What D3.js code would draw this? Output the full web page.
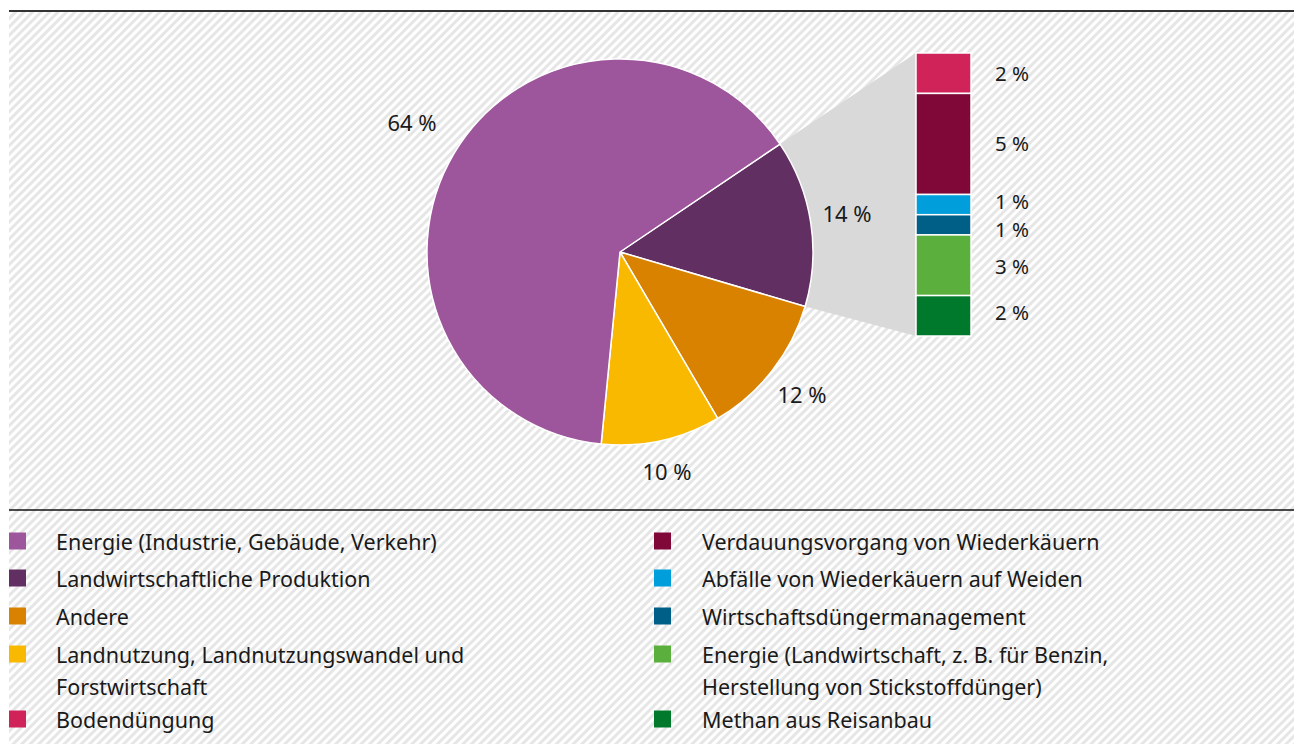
<!DOCTYPE html>
<html>
<head>
<meta charset="utf-8">
<script src="https://cdn.jsdelivr.net/npm/d3@7"></script>
<style>
  body { margin: 0; background: #fff; }
  text { font-family: "Noto Sans", "Open Sans", sans-serif; fill: #1a1a1a; }
</style>
</head>
<body>
<script>
// pie data
const pieNames = ["Landwirtschaftliche Produktion", "Andere", "Landnutzung, Landnutzungswandel und Forstwirtschaft", "Energie (Industrie, Gebäude, Verkehr)"];
const pieValues = [14, 12, 10, 64];
const pieColors = ["#622f62", "#d88200", "#f9b900", "#9d559c"];

// breakdown of agriculture slice
const barNames = ["Bodendüngung", "Verdauungsvorgang von Wiederkäuern", "Abfälle von Wiederkäuern auf Weiden", "Wirtschaftsdüngermanagement", "Energie (Landwirtschaft, z. B. für Benzin, Herstellung von Stickstoffdünger)", "Methan aus Reisanbau"];
const barValues = [2, 5, 1, 1, 3, 2];
const barColors = ["#cf2359", "#7f0838", "#009edb", "#005f87", "#5aaf3d", "#00792c"];

// legend columns (lines already split like the original)
const legendLeft = [
  { lines: ["Energie (Industrie, Gebäude, Verkehr)"], color: "#9d559c" },
  { lines: ["Landwirtschaftliche Produktion"], color: "#622f62" },
  { lines: ["Andere"], color: "#d88200" },
  { lines: ["Landnutzung, Landnutzungswandel und", "Forstwirtschaft"], color: "#f9b900" },
  { lines: ["Bodendüngung"], color: "#cf2359" }
];
const legendRight = [
  { lines: ["Verdauungsvorgang von Wiederkäuern"], color: "#7f0838" },
  { lines: ["Abfälle von Wiederkäuern auf Weiden"], color: "#009edb" },
  { lines: ["Wirtschaftsdüngermanagement"], color: "#005f87" },
  { lines: ["Energie (Landwirtschaft, z. B. für Benzin,", "Herstellung von Stickstoffdünger)"], color: "#5aaf3d" },
  { lines: ["Methan aus Reisanbau"], color: "#00792c" }
];

const width = 1300, height = 744;
const svg = d3.select("body").append("svg")
  .attr("width", width)
  .attr("height", height);

// hatched background
const pat = svg.append("defs").append("pattern")
  .attr("id", "hatch")
  .attr("patternUnits", "userSpaceOnUse")
  .attr("width", 6).attr("height", 6)
  .attr("patternTransform", "rotate(45)");
pat.append("rect").attr("width", 6).attr("height", 6).attr("fill", "#ffffff");
pat.append("rect").attr("width", 3).attr("height", 6).attr("fill", "#e6e6e6");

svg.append("rect")
  .attr("x", 9).attr("y", 11)
  .attr("width", 1285).attr("height", height - 11)
  .attr("fill", "url(#hatch)");

svg.append("line")
  .attr("x1", 9).attr("x2", 1294).attr("y1", 11).attr("y2", 11)
  .attr("stroke", "#333").attr("stroke-width", 2);
svg.append("line")
  .attr("x1", 9).attr("x2", 1294).attr("y1", 510).attr("y2", 510)
  .attr("stroke", "#111").attr("stroke-width", 1.5);

// pie
const cx = 620, cy = 252, r = 193;
const startAngle = 56 * Math.PI / 180;
const pie = d3.pie().sort(null)
  .startAngle(startAngle).endAngle(startAngle + 2 * Math.PI)(pieValues);
const arc = d3.arc().innerRadius(0).outerRadius(r);

// bar scale
const barX = 916, barW = 55, barTop = 53;
const yBar = d3.scaleLinear().domain([0, d3.sum(barValues)]).range([barTop, barTop + 283]);
const cum = d3.cumsum(barValues);
const barData = barValues.map((v, i) => ({ v, i, y0: yBar(cum[i] - v), y1: yBar(cum[i]) }));

// grey connector between agriculture slice and bar
const ag = pie[0];
const pt = a => [cx + r * Math.sin(a), cy - r * Math.cos(a)];
const p1 = pt(ag.startAngle), p2 = pt(ag.endAngle);
svg.append("path")
  .attr("d", d3.line()([p1, [barX, yBar(0)], [barX, yBar(d3.sum(barValues))], p2]))
  .attr("fill", "#d9d9d9");

const g = svg.append("g").attr("transform", `translate(${cx},${cy})`);
g.selectAll("path").data(pie).join("path")
  .attr("d", arc)
  .attr("fill", (d, i) => pieColors[i])
  .attr("stroke", "#fff").attr("stroke-width", 1.5)
  .attr("stroke-linejoin", "round");

// pie labels (agriculture label sits inside the grey connector)
const pieLabelXY = [[847, 213], [802, 394], [667, 471], [412, 122]];
g.selectAll("text.pl").data(pie).join("text")
  .attr("class", "pl")
  .attr("x", (d, i) => pieLabelXY[i][0] - cx)
  .attr("y", (d, i) => pieLabelXY[i][1] - cy)
  .attr("text-anchor", "middle")
  .attr("dominant-baseline", "central")
  .attr("font-size", 22)
  .text(d => d.value + " %");

// stacked bar
svg.selectAll("rect.seg").data(barData).join("rect")
  .attr("class", "seg")
  .attr("x", barX).attr("width", barW)
  .attr("y", d => d.y0).attr("height", d => d.y1 - d.y0)
  .attr("fill", d => barColors[d.i])
  .attr("stroke", "#fff").attr("stroke-width", 1.5);

const barLabelY = [73, 143, 201, 229, 266, 312];
svg.selectAll("text.bl").data(barData).join("text")
  .attr("class", "bl")
  .attr("x", 995)
  .attr("y", d => barLabelY[d.i])
  .attr("dominant-baseline", "central")
  .attr("font-size", 20.5)
  .text(d => d.v + " %");

// legend
function drawLegend(items, x0, tx) {
  const rowY = [541, 578, 616, 654, 719];
  items.forEach((it, i) => {
    svg.append("rect")
      .attr("x", x0).attr("y", rowY[i] - 8.5)
      .attr("width", 17).attr("height", 17)
      .attr("fill", it.color);
    it.lines.forEach((ln, j) => {
      svg.append("text")
        .attr("x", tx).attr("y", rowY[i] + j * 32)
        .attr("dominant-baseline", "central")
        .attr("font-size", 21.5)
        .text(ln);
    });
  });
}
drawLegend(legendLeft, 9, 56);
drawLegend(legendRight, 654, 702);
</script>
</body>
</html>
